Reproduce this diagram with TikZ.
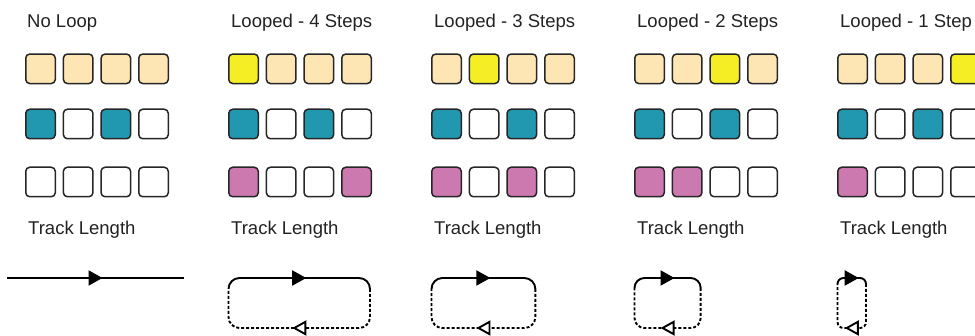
\documentclass[tikz,border=0pt]{standalone}
\usepackage{fontspec}
\setmainfont{Liberation Sans}
\usetikzlibrary{arrows.meta,decorations.markings}
\definecolor{beige}{HTML}{FDE6B4}
\definecolor{yel}{HTML}{F6EE25}
\definecolor{teal}{HTML}{2198B0}
\definecolor{pink}{HTML}{CC79B0}
\definecolor{edge}{HTML}{262626}
\definecolor{txt}{HTML}{222222}
\begin{document}
\begin{tikzpicture}[x=1pt,y=-1pt,
  sq/.style={draw=edge, line width=1.5pt, rounded corners=4pt, minimum size=29.5pt, inner sep=0pt},
  lbl/.style={anchor=base west, text=txt, font=\fontsize{18.5}{22}\selectfont, inner sep=0pt},
  trackline/.style={line width=1.9pt, draw=black},
  fwd/.style={trackline, postaction={decorate}, decoration={markings, mark=at position 0.5 with {\arrow[xshift=7pt]{Triangle[length=14pt,width=15pt]}}}},
  back/.style={trackline, dash pattern=on 3pt off 2pt, postaction={decorate}, decoration={markings, mark=at position 0.5 with {\arrow[solid,xshift=7pt]{Triangle[open,length=14pt,width=15pt,fill=white]}}}}
]
\useasboundingbox (0,0) rectangle (975,336);

% titles
\node[lbl] (t0) at (27,28) {No Loop};
\node[lbl] (t1) at (231,28) {Looped - 4 Steps};
\node[lbl] (t2) at (434,28) {Looped - 3 Steps};
\node[lbl] (t3) at (637,28) {Looped - 2 Steps};
\node[lbl] (t4) at (840,28) {Looped - 1 Step};

% row 1
\foreach \g/\ca/\cb/\cc/\cd in {0/beige/beige/beige/beige, 1/yel/beige/beige/beige, 2/beige/yel/beige/beige, 3/beige/beige/yel/beige, 4/beige/beige/beige/yel}{
  \foreach \i/\c in {0/\ca,1/\cb,2/\cc,3/\cd}{
    \node[sq, fill=\c] (s\g-1-\i) at ({25+203*\g+37.67*\i+15.5},68.8) {};
  }
}
% row 2
\foreach \g in {0,...,4}{
  \foreach \i/\c in {0/teal,1/white,2/teal,3/white}{
    \node[sq, fill=\c] (s\g-2-\i) at ({25+203*\g+37.67*\i+15.5},124) {};
  }
}
% row 3
\foreach \g/\ca/\cb/\cc/\cd in {0/white/white/white/white, 1/pink/white/white/pink, 2/pink/white/pink/white, 3/pink/pink/white/white, 4/pink/white/white/white}{
  \foreach \i/\c in {0/\ca,1/\cb,2/\cc,3/\cd}{
    \node[sq, fill=\c] (s\g-3-\i) at ({25+203*\g+37.67*\i+15.5},182) {};
  }
}

% track length labels
\node[lbl] (k0) at (28,235) {Track Length};
\node[lbl] (k1) at (231,235) {Track Length};
\node[lbl] (k2) at (434,235) {Track Length};
\node[lbl] (k3) at (637,235) {Track Length};
\node[lbl] (k4) at (840,235) {Track Length};

% no loop track
\coordinate (n-a) at (7,278);
\coordinate (n-b) at (184,278);
\draw[fwd] (n-a) -- (n-b);

% looped tracks
\foreach \g/\n/\r in {1/4/11,2/3/11,3/2/10,4/1/6}{
  \pgfmathsetmacro\xl{25+203*\g+0.5}
  \pgfmathsetmacro\xr{25+203*\g+37.67*(\n-1)+29}
  \coordinate (L\g-a) at (\xl,278+\r);
  \coordinate (L\g-b) at (\xl,278);
  \coordinate (L\g-c) at (\xr,278);
  \coordinate (L\g-d) at (\xr,278+\r);
  \coordinate (L\g-e) at (\xr,328);
  \coordinate (L\g-f) at (\xl,328);
  \draw[fwd, rounded corners=\r pt] (L\g-a) -- (L\g-b) -- (L\g-c) -- (L\g-d);
  \draw[back, rounded corners=\r pt] (L\g-d) -- (L\g-e) -- (L\g-f) -- (L\g-a);
}
\end{tikzpicture}
\end{document}
